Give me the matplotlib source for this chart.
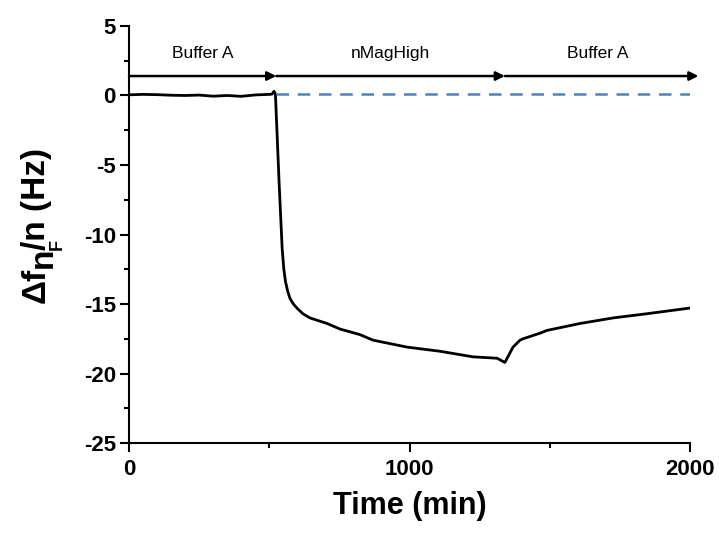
import matplotlib
matplotlib.use('Agg')
import matplotlib.pyplot as plt
from matplotlib.ticker import MultipleLocator

plt.rcParams['font.family'] = ['Liberation Sans', 'DejaVu Sans']
plt.rcParams['axes.unicode_minus'] = False

# frequency shift trace
time_min = [0, 50, 100, 150, 200, 250, 300, 350, 400, 450, 500, 510, 517, 522,
            535, 546, 552, 558, 566, 574, 586, 599, 620, 645, 706, 752, 823, 870, 991,
            1109, 1226, 1312, 1340, 1369, 1394, 1405, 1465, 1490, 1608, 1726, 1846, 1996]
df_hz = [0.05, 0.08, 0.06, 0.02, 0.0, 0.03, -0.05, 0.0, -0.06, 0.04, 0.08, 0.1, 0.3, 0.1,
         -6.2, -11.0, -12.5, -13.4, -14.1, -14.6, -15.0, -15.3, -15.7, -16.0, -16.4, -16.8,
         -17.2, -17.6, -18.1, -18.4, -18.8, -18.9, -19.2, -18.1, -17.6, -17.5, -17.1, -16.9,
         -16.4, -16.0, -15.7, -15.3]

# injection phases
phase_names = ['Buffer A', 'nMagHigh', 'Buffer A']
phase_start = [0, 525, 1340]
phase_end = [525, 1340, 2030]
baseline = 0.1

W, H = 719, 537
fig = plt.figure(figsize=(W / 100, H / 100), dpi=100)
ax = fig.add_axes([0.1794, 0.175, 0.7803, 0.7766])

ax.plot(time_min, df_hz, color='black', lw=2)
ax.plot([525, 2000], [baseline, baseline], color='#4f81bd', lw=1.8, ls=(0, (5, 3.5)))

for name, t0, t1 in zip(phase_names, phase_start, phase_end):
    ax.annotate('', xy=(t1, 1.4), xytext=(t0, 1.4),
                arrowprops=dict(arrowstyle='-|>', color='black', lw=1.8,
                                mutation_scale=13, shrinkA=0, shrinkB=0),
                annotation_clip=False)
    ax.text((t0 + min(t1, 2000)) / 2, 2.5, name, ha='center', va='bottom', fontsize=12.5)

ax.set_xlim(0, 2000)
ax.set_ylim(-25, 5)
ax.xaxis.set_major_locator(MultipleLocator(1000))
ax.xaxis.set_minor_locator(MultipleLocator(500))
ax.yaxis.set_major_locator(MultipleLocator(5))
ax.yaxis.set_minor_locator(MultipleLocator(2.5))

for s in ['top', 'right']:
    ax.spines[s].set_visible(False)
for s in ['left', 'bottom']:
    ax.spines[s].set_linewidth(1.5)

ax.tick_params(which='major', direction='out', length=6.5, width=1.5, labelsize=16, pad=3)
ax.tick_params(which='minor', direction='out', length=3.5, width=1.5)
ax.tick_params(axis='x', which='major', pad=5)
for lbl in ax.get_xticklabels() + ax.get_yticklabels():
    lbl.set_fontweight('bold')

ax.set_xlabel('Time (min)', fontsize=22, fontweight='bold', labelpad=8)

# y label built from pieces: "Δf", lowered "n" with small "F", then "/n (Hz)"
renderer = fig.canvas.get_renderer()
pieces = [('\u0394f', 24, 0), ('n', 24, 7), ('F', 13, 17), ('/n (Hz)', 24, 0)]
base_x = 45
y_px = 303
for txt, size, shift in pieces:
    t = fig.text((base_x + shift) / W, 1 - y_px / H, txt, rotation=90, rotation_mode='anchor',
                 ha='left', va='baseline', fontsize=size, fontweight='bold')
    bb = t.get_window_extent(renderer)
    if txt == 'n':
        y_px -= bb.height - 3
    elif txt == 'F':
        y_px -= 0
    else:
        y_px -= bb.height

fig.savefig('out.png', dpi=100)
